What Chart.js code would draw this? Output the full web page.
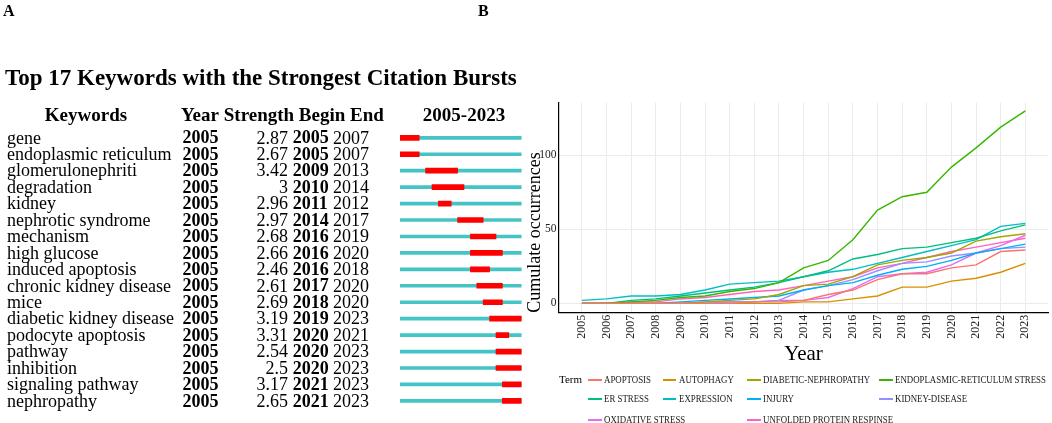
<!DOCTYPE html>
<html>
<head>
    <title>Keyword bursts and cumulative occurrences</title>
    <script src="https://cdn.jsdelivr.net/npm/chart.js"></script>
    <style>
        body {margin: 0; background: #fff;}
        #page {position: relative; width: 1052px; height: 423px; overflow: hidden; font-family: 'Liberation Serif', 'Times New Roman', serif;}
        .panel {position: absolute; font: bold 16px 'Liberation Serif', serif;}
        #burstBox {position: absolute; left: 0; top: 0; width: 530px; height: 423px;}
        #lineBox {position: absolute; left: 520px; top: 90px; width: 532px; height: 275px;}
        #legend {position: absolute; left: 0; top: 0; width: 1052px; height: 423px; pointer-events: none;}
        #legend div {position: absolute; white-space: nowrap;}
        #legend .key {transform: scaleX(0.93); transform-origin: left center;}
    </style>
</head>
<body>
<div id="page">
    <div id="burstBox"><canvas id="burstChart"></canvas></div>
    <div id="lineBox"><canvas id="lineChart"></canvas></div>
    <div id="legend"></div>
    <div class="panel" style="left:3px; top:2px;">A</div>
    <div class="panel" style="left:478px; top:2px;">B</div>
</div>
<script>
    // ---- panel A: citation bursts ----
    var keywords = ['gene', 'endoplasmic reticulum', 'glomerulonephriti', 'degradation', 'kidney',
        'nephrotic syndrome', 'mechanism', 'high glucose', 'induced apoptosis', 'chronic kidney disease',
        'mice', 'diabetic kidney disease', 'podocyte apoptosis', 'pathway', 'inhibition',
        'signaling pathway', 'nephropathy'];
    var firstYear = [2005, 2005, 2005, 2005, 2005, 2005, 2005, 2005, 2005, 2005, 2005, 2005, 2005, 2005, 2005, 2005, 2005];
    var strength = [2.87, 2.67, 3.42, 3, 2.96, 2.97, 2.68, 2.66, 2.46, 2.61, 2.69, 3.19, 3.31, 2.54, 2.5, 3.17, 2.65];
    var burstBegin = [2005, 2005, 2009, 2010, 2011, 2014, 2016, 2016, 2016, 2017, 2018, 2019, 2020, 2020, 2020, 2021, 2021];
    var burstEnd = [2007, 2007, 2013, 2014, 2012, 2017, 2019, 2020, 2018, 2020, 2020, 2023, 2021, 2023, 2023, 2023, 2023];
    var spanStart = 2005;
    var spanEnd = 2023;

    // ---- panel B: cumulative occurrences ----
    var years = [2005, 2006, 2007, 2008, 2009, 2010, 2011, 2012, 2013, 2014, 2015, 2016, 2017, 2018, 2019, 2020, 2021, 2022, 2023];
    var terms = ['APOPTOSIS', 'AUTOPHAGY', 'DIABETIC-NEPHROPATHY', 'ENDOPLASMIC-RETICULUM STRESS', 'ER STRESS',
        'EXPRESSION', 'INJURY', 'KIDNEY-DISEASE', 'OXIDATIVE STRESS', 'UNFOLDED PROTEIN RESPINSE'];
    var apoptosis   = [0, 0, 0, 0, 0, 0, 0, 1, 1, 2, 6, 9, 16, 20, 20, 24, 26, 35, 36];
    var autophagy   = [0, 0, 0, 0, 0, 0, 0, 0, 0, 1, 1, 3, 5, 11, 11, 15, 17, 21, 27];
    var diabeticNep = [0, 0, 0, 0, 0, 1, 2, 3, 6, 12, 13, 18, 26, 29, 31, 34, 42, 45, 47];
    var erStressLong = [0, 0, 1, 2, 4, 5, 8, 10, 14, 24, 29, 43, 63, 72, 75, 92, 105, 119, 130];
    var erStress    = [0, 0, 2, 3, 5, 7, 9, 11, 14, 18, 22, 30, 33, 37, 38, 41, 44, 49, 53];
    var expression  = [2, 3, 5, 5, 6, 9, 13, 14, 15, 18, 21, 23, 27, 31, 35, 39, 43, 52, 54];
    var injury      = [0, 0, 0, 0, 1, 2, 3, 4, 5, 9, 12, 14, 19, 23, 25, 29, 34, 37, 40];
    var kidneyDis   = [0, 0, 0, 0, 0, 0, 1, 1, 2, 9, 12, 16, 22, 27, 28, 32, 34, 37, 38];
    var oxidative   = [0, 0, 0, 0, 0, 1, 1, 1, 2, 2, 4, 10, 18, 20, 21, 26, 34, 39, 46];
    var unfolded    = [0, 0, 1, 1, 3, 4, 6, 8, 9, 12, 15, 18, 24, 27, 31, 35, 38, 41, 44];
    var series = [apoptosis, autophagy, diabeticNep, erStressLong, erStress, expression, injury, kidneyDis, oxidative, unfolded];
    var yTicks = [0, 50, 100];

    var colors = ['#F8766D', '#D89000', '#A3A500', '#39B600', '#00BF7D', '#00BFC4', '#00B0F6', '#9590FF', '#E76BF3', '#FF62BC'];
    var serif = "'Liberation Serif', 'Times New Roman', serif";

    // draws the table text next to the burst bars
    var tableText = {
        id: 'tableText',
        afterDraw: function(chart) {
            var ctx = chart.ctx;
            var ys = chart.scales.y;
            ctx.save();
            ctx.fillStyle = '#000';
            ctx.textBaseline = 'middle';

            ctx.font = 'bold 23px ' + serif;
            ctx.textAlign = 'left';
            ctx.fillText('Top 17 Keywords with the Strongest Citation Bursts', 5, 79);

            ctx.font = 'bold 19px ' + serif;
            ctx.textAlign = 'center';
            ctx.fillText('Keywords', 86, 116);
            ctx.fillText(spanStart + '-' + spanEnd, 464, 116);
            ctx.textAlign = 'left';
            ctx.fillText('Year Strength Begin End', 181, 116);

            keywords.forEach(function(k, i) {
                var y = ys.getPixelForValue(i) + 1;
                ctx.textAlign = 'left';
                ctx.font = '18px ' + serif;
                ctx.fillText(k, 7, y);
                ctx.font = 'bold 18px ' + serif;
                ctx.fillText(String(firstYear[i]), 182.5, y);
                ctx.fillText(String(burstBegin[i]), 292.8, y);
                ctx.font = '18px ' + serif;
                ctx.fillText(String(burstEnd[i]), 333, y);
                ctx.textAlign = 'right';
                ctx.fillText(String(strength[i]), 288, y);
            });
            ctx.restore();
        }
    };

    new Chart(document.getElementById('burstChart'), {
        type: 'bar',
        data: {
            labels: keywords,
            datasets: [
                {
                    label: 'burst',
                    data: burstBegin.map(function(b, i) { return [b, burstEnd[i] + 1]; }),
                    backgroundColor: '#FF0000',
                    barThickness: 5,
                    grouped: false
                },
                {
                    label: 'span',
                    data: keywords.map(function() { return [spanStart, spanEnd + 1]; }),
                    backgroundColor: '#44C4C4',
                    barThickness: 3,
                    grouped: false
                }
            ]
        },
        options: {
            indexAxis: 'y',
            animation: false,
            responsive: true,
            maintainAspectRatio: false,
            layout: {padding: {left: 400, right: 8.4, top: 129.6, bottom: 13.9}},
            plugins: {legend: {display: false}, tooltip: {enabled: false}},
            scales: {
                x: {type: 'linear', min: spanStart, max: spanEnd + 1, display: false},
                y: {display: false}
            }
        },
        plugins: [tableText]
    });

    new Chart(document.getElementById('lineChart'), {
        type: 'line',
        data: {
            datasets: terms.map(function(t, i) {
                return {
                    label: t,
                    data: years.map(function(yr, j) { return {x: yr, y: series[i][j]}; }),
                    borderColor: colors[i],
                    backgroundColor: colors[i],
                    borderWidth: 1.4,
                    pointRadius: 0,
                    fill: false,
                    tension: 0
                };
            })
        },
        options: {
            animation: false,
            responsive: true,
            maintainAspectRatio: false,
            layout: {padding: {top: 12.7, right: 4, left: 0, bottom: 0}},
            plugins: {legend: {display: false}, tooltip: {enabled: false}},
            scales: {
                x: {
                    type: 'linear',
                    min: 2004.07,
                    max: 2023.92,
                    afterBuildTicks: function(s) { s.ticks = years.map(function(v) { return {value: v}; }); },
                    afterFit: function(s) { s.height = 52.3; },
                    ticks: {
                        autoSkip: false,
                        minRotation: 90,
                        maxRotation: 90,
                        padding: 2,
                        color: '#222',
                        font: {family: serif, size: 12},
                        callback: function(v) { return String(v); }
                    },
                    grid: {color: '#ebebeb', drawTicks: false},
                    border: {color: '#000', width: 1.2},
                    title: {display: true, text: 'Year', color: '#000', font: {family: serif, size: 21, lineHeight: 1}, padding: {top: 0, bottom: 0}}
                },
                y: {
                    min: -6.3,
                    max: 135.5,
                    afterBuildTicks: function(s) { s.ticks = yTicks.map(function(v) { return {value: v}; }); },
                    afterFit: function(s) { s.width = 39; },
                    ticks: {
                        padding: 2.5,
                        color: '#222',
                        font: {family: serif, size: 11.5},
                        callback: function(v) { return String(v); }
                    },
                    grid: {color: '#ebebeb', drawTicks: false},
                    border: {color: '#000', width: 1.2},
                    title: {display: true, text: 'Cumulate occurrences', align: 'start', color: '#000', font: {family: serif, size: 18}, padding: {top: 4, bottom: 0}}
                }
            }
        }
    });

    // ggplot-style legend under panel B
    var legendColX = [588, 662.5, 747.4, 879];
    var legendRowY = [380, 398.7, 420];
    var legendRow = [0, 0, 0, 0, 1, 1, 1, 1, 2, 2];
    var legendCol = [0, 1, 2, 3, 0, 1, 2, 3, 0, 2];
    var legendEl = document.getElementById('legend');
    var html = '<div style="left:559px; top:' + (legendRowY[0] - 7) + 'px; font-size:11px; color:#000;">Term</div>';
    terms.forEach(function(t, i) {
        var x = legendColX[legendCol[i]];
        var y = legendRowY[legendRow[i]];
        html += '<div style="left:' + x + 'px; top:' + (y - 1) + 'px; width:13.5px; height:2px; background:' + colors[i] + ';"></div>';
        html += '<div class="key" style="left:' + (x + 16) + 'px; top:' + (y - 6) + 'px; font-size:9.5px; line-height:12px; color:#1a1a1a;">' + t + '</div>';
    });
    legendEl.innerHTML = html;
</script>
</body>
</html>
